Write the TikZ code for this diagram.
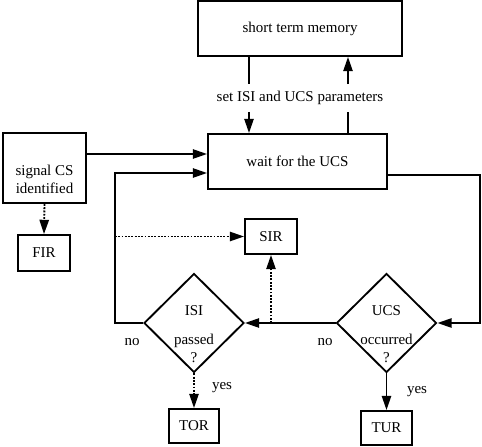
\documentclass[tikz,border=0pt]{standalone}
\usepackage{fontspec}
\setmainfont{Liberation Serif}
\usetikzlibrary{shapes.geometric,arrows.meta}
\newlength\unitpx
\setlength\unitpx{0.7pt}

\begin{document}
\begin{tikzpicture}
          [x=\unitpx,y=-\unitpx,
          font=\fontsize{10.5}{12.6}\selectfont,
          box/.style={shape=rectangle,draw=black,fill=white,text=black,line width=1.3pt},
          decision/.style={shape=diamond,draw=black,fill=white,inner sep=0pt,line width=1.3pt,minimum width=100\unitpx,minimum height=99\unitpx},
          txt/.style={inner sep=0pt,align=center},
          arc/.style={-{Triangle[length=10pt,width=6.5pt]},line width=1.3pt},
          dotarc/.style={arc,densely dotted},
          edge/.style={line width=1.3pt}]

            \useasboundingbox (0,0) rectangle (482,447);

            \node (stm) [box,minimum width=204\unitpx,minimum height=55\unitpx] at (300,28.5) {short term memory};
            \node (wait) [box,minimum width=179\unitpx,minimum height=55\unitpx] at (297.5,161.5) {wait for the UCS};
            \node (cs) [box,minimum width=83\unitpx,minimum height=70\unitpx] at (44.5,168) {};
            \node (cstext) [txt] at (44.5,179) {signal CS\\identified};
            \node (fir) [box,minimum width=52\unitpx,minimum height=36\unitpx] at (44,253) {FIR};
            \node (sir) [box,minimum width=52\unitpx,minimum height=35\unitpx] at (271,236.5) {SIR};
            \node (isi) [decision] at (194,323) {};
            \node (ucs) [decision] at (386.5,323) {};
            \node (isitext) [txt,anchor=north] at (194,305) {ISI\\[8pt]passed\\?};
            \node (ucstext) [txt,anchor=north] at (386.5,305) {UCS\\[8pt]occurred\\?};
            \node (tor) [box,minimum width=50\unitpx,minimum height=34\unitpx] at (194,426) {TOR};
            \node (tur) [box,minimum width=51\unitpx,minimum height=34\unitpx] at (386.5,428) {TUR};
            \node (par) [txt,minimum height=27\unitpx] at (300,98) {set ISI and UCS parameters};
%            \node (no1) at (132,342) {no};
            \node (no1) [txt] at (132,342) {no};
            \node (no2) [txt] at (325,342) {no};
            \node (yes1) [txt] at (222,388) {yes};
            \node (yes2) [txt] at (417,392) {yes};

          \coordinate (A1) at (249,0);
          \coordinate (B1) at (348,0);
          \coordinate (C1) at (0,154);
          \coordinate (L1) at (115,173);
          \coordinate (R1) at (480,175);

          \draw [edge] (stm.south -| A1) -- (par.north -| A1);
            \draw [arc] (par.south -| A1) -- (wait.north -| A1);
            \draw [edge] (wait.north -| B1) -- (par.south -| B1);
            \draw [arc] (par.north -| B1) -- (stm.south -| B1);
            \draw [arc] (cs.east |- C1) -- (wait.west |- C1);
            \draw [dotarc] (cs.south) -- (fir.north);
            \draw [arc] (isi.west) -- (L1 |- isi.west) -- (L1) -- (wait.west |- L1);
            \draw [dotarc] (L1 |- sir.west) -- (sir.west);
            \draw [arc] (wait.east |- R1) -- (R1) -- (R1 |- ucs.east) -- (ucs.east);
            \draw [arc] (ucs.west) -- (isi.east);
            \draw [dotarc] (sir.south |- ucs.west) -- (sir.south);
            \draw [dotarc] (isi.south) -- (tor.north);
            \draw [arc] (ucs.south) -- (tur.north);

        \end{tikzpicture}
\end{document}
